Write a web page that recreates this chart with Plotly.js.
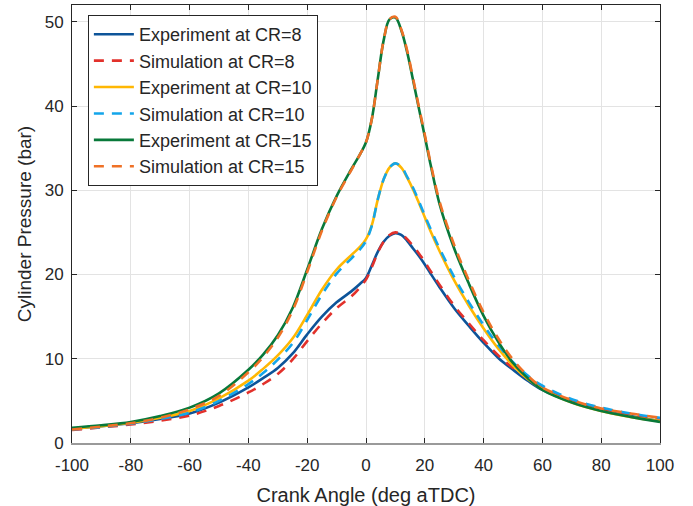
<!DOCTYPE html>
<html>
<head>
<meta charset="utf-8">
<script src="https://cdn.plot.ly/plotly-3.0.1.min.js"></script>
<style>html,body{margin:0;padding:0;background:#fff;}#chart{width:693px;height:506px;}</style>
</head>
<body>
<div id="chart"></div>
<script>
const crankAngle = [-100,-90,-80,-70,-60,-50,-40,-35,-30,-25,-20,-15,-10,-5,-2,0,2,4,6,8,10,12,14,16,18,20,22,25,30,35,40,45,50,55,60,70,80,90,100];

const expCR8  = [1.7,2.0,2.35,2.85,3.5,4.8,6.6,7.7,8.9,10.6,12.9,15.0,16.7,18.0,18.9,19.6,21.1,22.7,23.9,24.6,24.9,24.7,24.0,23.1,22.2,21.2,20.1,18.5,16.0,13.9,11.9,10.1,8.7,7.4,6.3,4.9,3.9,3.2,2.6];
const simCR8  = [1.55,1.85,2.2,2.65,3.25,4.4,6.0,7.0,8.2,9.9,12.1,14.2,16.0,17.4,18.5,19.4,20.9,22.6,23.9,24.7,25.0,24.8,24.2,23.4,22.5,21.5,20.4,18.8,16.3,14.2,12.2,10.4,8.9,7.7,6.6,5.1,4.1,3.4,2.9];
const expCR10 = [1.7,2.0,2.4,3.0,3.8,5.3,7.4,8.8,10.4,12.4,15.2,18.2,20.6,22.3,23.3,24.2,25.9,28.9,31.3,32.7,33.2,32.7,31.5,30.1,28.5,26.8,25.1,22.8,19.3,16.3,13.6,11.2,9.2,7.6,6.4,4.8,3.8,3.1,2.6];
const simCR10 = [1.6,1.9,2.3,2.85,3.6,5.0,7.0,8.3,9.9,11.8,14.6,17.6,20.1,21.9,23.0,24.0,25.8,28.9,31.3,32.7,33.2,32.8,31.6,30.3,28.7,27.0,25.4,23.1,19.7,16.7,14.0,11.6,9.6,8.0,6.8,5.2,4.2,3.5,3.0];
const expCR15 = [1.8,2.1,2.5,3.2,4.2,5.9,8.7,10.5,12.8,16.0,20.6,25.4,29.3,32.5,34.3,35.7,38.5,43.2,47.8,50.3,50.5,49.0,46.4,43.1,39.7,36.4,33.0,28.4,23.1,18.9,15.1,12.0,9.5,7.7,6.3,4.8,3.8,3.1,2.5];
const simCR15 = [1.6,1.95,2.35,3.0,4.0,5.6,8.4,10.2,12.5,15.7,20.3,25.2,29.2,32.4,34.3,35.7,38.5,43.2,47.8,50.3,50.6,49.1,46.6,43.3,39.9,36.6,33.2,28.7,23.5,19.3,15.5,12.4,9.9,8.0,6.6,5.1,4.1,3.5,3.0];

const seriesNames = ["Experiment at CR=8","Simulation at CR=8","Experiment at CR=10","Simulation at CR=10","Experiment at CR=15","Simulation at CR=15"];
const seriesValues = [expCR8, simCR8, expCR10, simCR10, expCR15, simCR15];
const seriesColors = ["#0d5499","#e2312b","#ffb703","#13a5ea","#08793a","#ef7126"];
const seriesDash = ["solid","10px,8px","solid","10px,8px","solid","10px,8px"];

const xTicks = [-100,-80,-60,-40,-20,0,20,40,60,80,100];
const yTicks = [0,10,20,30,40,50];

const traces = seriesValues.map((v,i)=>({
  x: crankAngle, y: v, type: 'scatter', mode: 'lines', name: seriesNames[i],
  line: {color: seriesColors[i], width: 2.6, dash: seriesDash[i], shape: 'spline', smoothing: 1}
}));
traces.push({x:[-100,100], y:[0,0], xaxis:'x2', yaxis:'y', mode:'lines', line:{width:0,color:'rgba(0,0,0,0)'}, showlegend:false, hoverinfo:'skip'});

const font = 'Liberation Sans, Arial, sans-serif';
const layout = {
  width: 693, height: 506,
  margin: {l:72, r:33, t:5, b:63},
  paper_bgcolor: '#fff', plot_bgcolor: '#fff',
  font: {family: font, size: 16, color: '#262626'},
  showlegend: true,
  legend: {x:0.027, y:0.977, xanchor:'left', yanchor:'top', bgcolor:'#fff', bordercolor:'#262626', borderwidth:1,
           font:{family:font, size:18, color:'#262626'}, tracegroupgap: 0, itemwidth: 40},
  xaxis: {range:[-100,100], tickvals: xTicks, ticktext: xTicks.map(String), ticks:'inside', ticklen:5, tickcolor:'#262626', tickwidth:1,
          showgrid:true, gridcolor:'#e3e3e3', gridwidth:1, zeroline:false, showline:true, linecolor:'#9a9a9a', linewidth:2,
          ticklabelstandoff: 6,
          title:{text:'Crank Angle (deg aTDC)', font:{family:font, size:20, color:'#262626'}, standoff: 14},
          tickfont:{family:font, size:17, color:'#262626'}},
  xaxis2: {overlaying:'x', matches:'x', side:'top', range:[-100,100], tickvals:xTicks, showticklabels:false, ticks:'inside', ticklen:5,
           tickcolor:'#262626', showgrid:false, zeroline:false, showline:true, linecolor:'#262626', linewidth:1},
  yaxis: {range:[0,52], tickvals: yTicks, ticktext: yTicks.map(String), ticks:'inside', ticklen:5, tickcolor:'#262626',
          showgrid:true, gridcolor:'#e3e3e3', gridwidth:1, zeroline:false, showline:true, linecolor:'#262626', linewidth:1, mirror:'ticks',
          ticklabelstandoff: 4,
          title:{text:'Cylinder Pressure (bar)', font:{family:font, size:19, color:'#262626'}, standoff: 8},
          tickfont:{family:font, size:17, color:'#262626'}}
};
Plotly.newPlot('chart', traces, layout, {displayModeBar:false, staticPlot:true});
</script>
</body>
</html>
